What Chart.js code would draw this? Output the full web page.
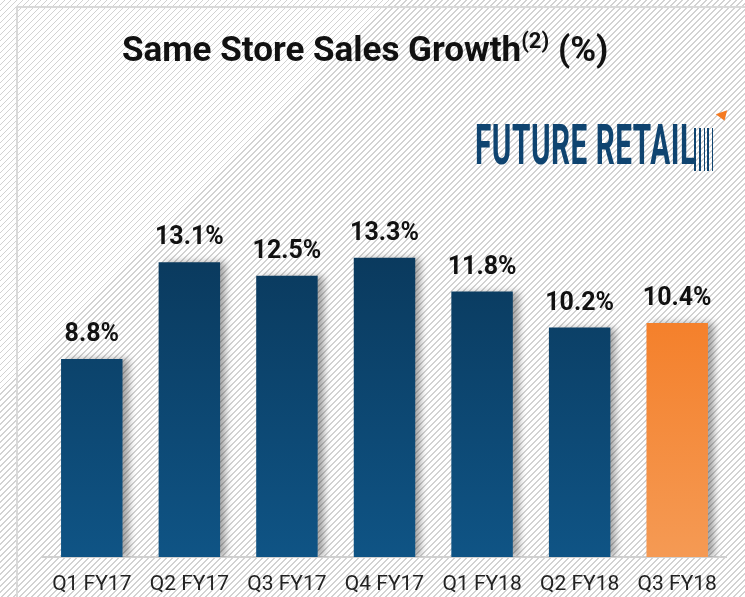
<!DOCTYPE html>
<html>
<head>
<meta charset="utf-8">
<script src="https://cdn.jsdelivr.net/npm/chart.js@4"></script>
<style>
  html, body { margin: 0; padding: 0; }
  body {
    width: 745px; height: 597px; overflow: hidden; position: relative;
    background: repeating-linear-gradient(135deg, #ffffff 0px, #ffffff 3px, #d2d2d2 3px, #d2d2d2 4.24px);
    font-family: Roboto, sans-serif;
  }
  #frame { position: absolute; left: 16px; top: 6px; width: 760px; height: 620px; border: 2px solid #d9d9d9; box-sizing: border-box; }
  #title { position: absolute; left: 122px; top: 30px; font-size: 35px; font-weight: bold; color: #111; white-space: nowrap; line-height: 40px; }
  #title sup { font-size: 22px; font-weight: bold; vertical-align: 0; position: relative; top: -13px; }
  #logo { position: absolute; left: 475px; top: 118px; font-size: 55px; font-weight: bold; color: #0f4470; line-height: 55px;
          transform: scaleX(0.54); transform-origin: left top; white-space: nowrap; letter-spacing: 1px; }
  .bc { position: absolute; top: 128px; height: 43px; background: #0f4470; }
  #bird { position: absolute; left: 717px; top: 112px; width: 0; height: 0; border-left: 6px solid transparent; border-right: 6px solid transparent; border-top: 9px solid #f47920; transform: rotate(-20deg); }
  #c { position: absolute; left: 0; top: 0; }
</style>
</head>
<body>
<div id="frame"></div>
<canvas id="c" width="745" height="597"></canvas>
<div id="title">Same Store Sales Growth<sup>(2)</sup> (%)</div>
<div id="logo">FUTURE RETAIL</div>
<div class="bc" style="left:694px;width:2px"></div>
<div class="bc" style="left:699px;width:2px"></div>
<div class="bc" style="left:704px;width:1px"></div>
<div class="bc" style="left:707px;width:2px"></div>
<div class="bc" style="left:712px;width:1px"></div>
<div id="bird"></div>
<script>
// quarters and same store sales growth (%)
const quarters = ["Q1 FY17", "Q2 FY17", "Q3 FY17", "Q4 FY17", "Q1 FY18", "Q2 FY18", "Q3 FY18"];
const growth = [8.8, 13.1, 12.5, 13.3, 11.8, 10.2, 10.4];
const growthLabels = ["8.8%", "13.1%", "12.5%", "13.3%", "11.8%", "10.2%", "10.4%"];
const highlightIndex = 6;

function barFill(context) {
    const chart = context.chart;
    const area = chart.chartArea;
    if (!area) return "#0d466f";
    const g = chart.ctx.createLinearGradient(0, area.top + 150, 0, area.bottom);
    if (context.dataIndex === highlightIndex) {
        g.addColorStop(0, "#f47920");
        g.addColorStop(1, "#f59a54");
    } else {
        g.addColorStop(0, "#0a3a5e");
        g.addColorStop(1, "#0f5485");
    }
    return g;
}

// soft shadow to the right of the bars, then the value labels
const barShadow = {
    id: "barShadow",
    beforeDatasetsDraw(chart) {
        const ctx = chart.ctx;
        ctx.save();
        ctx.shadowColor = "rgba(0,0,0,0.35)";
        ctx.shadowBlur = 7;
        ctx.shadowOffsetX = 6;
        ctx.shadowOffsetY = 0;
    },
    afterDatasetsDraw(chart) {
        const ctx = chart.ctx;
        ctx.restore();
        ctx.save();
        ctx.font = "bold 25px Roboto";
        ctx.fillStyle = "#111";
        ctx.textAlign = "center";
        ctx.textBaseline = "alphabetic";
        chart.getDatasetMeta(0).data.forEach((bar, i) => {
            ctx.fillText(growthLabels[i], bar.x, bar.y - 18);
        });
        ctx.restore();
    }
};

new Chart("c", {
    type: "bar",
    data: {
        labels: quarters,
        datasets: [{
            data: growth,
            backgroundColor: barFill,
            barPercentage: 0.63,
            categoryPercentage: 1
        }]
    },
    options: {
        responsive: false,
        animation: false,
        layout: { padding: { left: 43, right: 19, top: 107, bottom: 0 } },
        plugins: { legend: { display: false }, tooltip: { enabled: false } },
        scales: {
            x: {
                grid: { display: false },
                border: { display: true, color: "#d0d0d0", width: 2 },
                ticks: { color: "#222", font: { family: "Roboto", size: 21 }, padding: 7 },
                afterFit(scale) { scale.height = 40; }
            },
            y: {
                display: false,
                min: 0,
                max: 20
            }
        }
    },
    plugins: [barShadow]
});
</script>
</body>
</html>
